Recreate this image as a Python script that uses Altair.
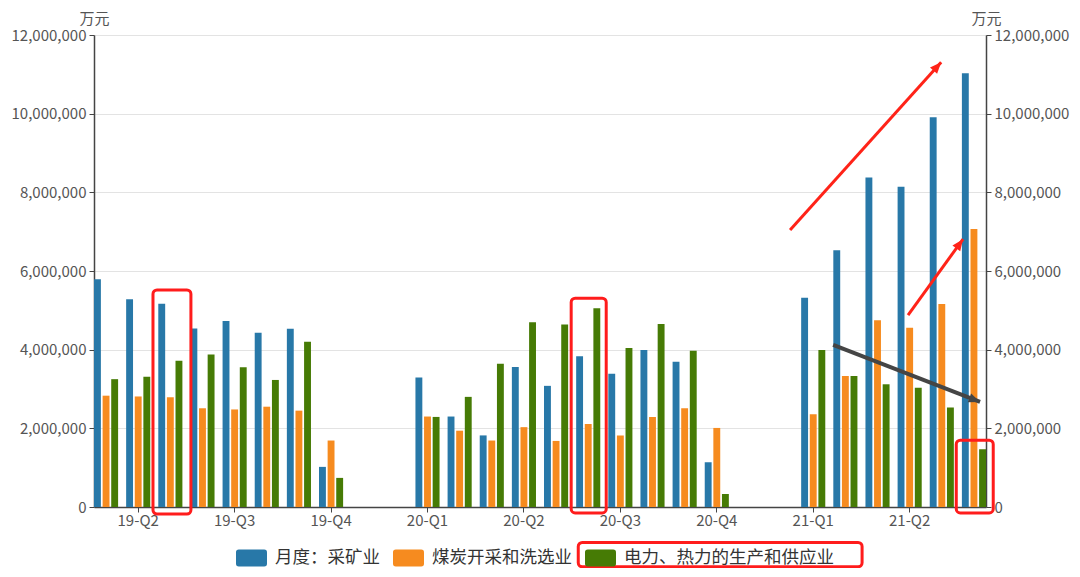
import altair as alt
import pandas as pd

# ---------------- data ----------------
periods = list(range(28))
tick_positions = [1, 4, 7, 10, 13, 16, 19, 22, 25]
tick_labels = ["19-Q2", "19-Q3", "19-Q4", "20-Q1", "20-Q2", "20-Q3", "20-Q4", "21-Q1", "21-Q2"]

series = ["月度：采矿业", "煤炭开采和洗选业", "电力、热力的生产和供应业"]
colors = ["#2878a8", "#f68b1f", "#467b05"]

mining = [5.79e6, 5.28e6, 5.17e6, 4.54e6, 4.73e6, 4.43e6, 4.53e6, 1.02e6, None, None,
          3.29e6, 2.30e6, 1.82e6, 3.56e6, 3.08e6, 3.83e6, 3.39e6, 3.99e6, 3.69e6, 1.14e6,
          None, None, 5.32e6, 6.53e6, 8.38e6, 8.14e6, 9.91e6, 11.03e6]
coal = [2.83e6, 2.81e6, 2.79e6, 2.51e6, 2.48e6, 2.55e6, 2.45e6, 1.69e6, None, None,
        2.30e6, 1.94e6, 1.69e6, 2.03e6, 1.68e6, 2.11e6, 1.82e6, 2.29e6, 2.51e6, 2.01e6,
        None, None, 2.36e6, 3.33e6, 4.75e6, 4.56e6, 5.16e6, 7.07e6]
power = [3.25e6, 3.31e6, 3.72e6, 3.88e6, 3.55e6, 3.23e6, 4.20e6, 0.74e6, None, None,
         2.29e6, 2.80e6, 3.64e6, 4.70e6, 4.64e6, 5.05e6, 4.04e6, 4.65e6, 3.97e6, 0.33e6,
         None, None, 3.99e6, 3.33e6, 3.12e6, 3.03e6, 2.53e6, 1.47e6]

# annotation highlight boxes (category units / value units)
box_x0 = [1.46, 14.47, 26.45, 14.69]
box_x1 = [2.64, 15.56, 27.60, 23.52]
box_y0 = [-0.18e6, -0.15e6, -0.15e6, -1.52e6]
box_y1 = [5.52e6, 5.31e6, 1.70e6, -0.90e6]

# annotation arrows
arrow_x0 = [21.28, 24.95, 22.62]
arrow_y0 = [7.04e6, 4.88e6, 4.12e6]
arrow_x1 = [25.98, 26.66, 27.19]
arrow_y1 = [11.31e6, 6.81e6, 2.67e6]
arrow_angle = [41.9, 35.9, 111.2]
arrow_color = ["#ff2318", "#ff2318", "#454545"]
arrow_width = [3.0, 3.0, 4.0]

# ---------------- tables ----------------
rows = []
for name, vals in zip(series, [mining, coal, power]):
    for p, v in zip(periods, vals):
        if v is not None:
            rows.append({"period": p, "series": name, "value": v})
bars_df = pd.DataFrame(rows)

boxes_df = pd.DataFrame({"x0": box_x0, "x1": box_x1, "y0": box_y0, "y1": box_y1})
arrows_df = pd.DataFrame({"x0": arrow_x0, "y0": arrow_y0, "x1": arrow_x1, "y1": arrow_y1,
                          "angle": arrow_angle, "color": arrow_color, "w": arrow_width})

label_array = ["" for _ in periods]
for pos, lab in zip(tick_positions, tick_labels):
    label_array[pos] = lab
label_expr = "[" + ",".join("'" + s + "'" for s in label_array) + "][datum.value]"

FONT = "Noto Sans CJK SC"
YDOM = [0, 12000000]
W, H = 892, 472
YTICKS = list(range(0, 12000001, 2000000))


def y_axis(orient, grid):
    return alt.Axis(orient=orient, values=YTICKS, format=",d",
                    title="万元", titleAngle=0, titleX=0, titleY=-9,
                    titleAlign="center", titleBaseline="bottom",
                    titleFont=FONT, titleFontSize=15, titleFontWeight="normal",
                    titleColor="#555555",
                    labelFont=FONT, labelFontSize=15, labelColor="#555555",
                    tickSize=5, tickColor="#444444", labelPadding=3,
                    domainColor="#444444", domainWidth=1.5,
                    grid=grid, gridColor="#e3e3e3", gridWidth=1)


bars = alt.Chart(bars_df).mark_bar().encode(
    x=alt.X("period:O",
            scale=alt.Scale(domain=periods, paddingInner=0.25, paddingOuter=0),
            axis=alt.Axis(values=tick_positions, labelExpr=label_expr, title=None,
                          labelAngle=0, labelFontSize=15, labelColor="#555555",
                          labelFont=FONT, tickSize=5, tickColor="#444444",
                          domainColor="#444444", domainWidth=1.5, labelPadding=1,
                          bandPosition=0.5, grid=False)),
    xOffset=alt.XOffset("series:N", scale=alt.Scale(domain=series, paddingInner=0.2, paddingOuter=0)),
    y=alt.Y("value:Q", scale=alt.Scale(domain=YDOM, nice=False), axis=y_axis("left", True)),
    color=alt.Color("series:N",
                    scale=alt.Scale(domain=series, range=colors),
                    legend=alt.Legend(title=None, orient="none", direction="horizontal",
                                      legendX=142, legendY=507,
                                      symbolType="M-0.82,-0.55L0.82,-0.55Q1,-0.55 1,-0.37L1,0.37Q1,0.55 0.82,0.55L-0.82,0.55Q-1,0.55 -1,0.37L-1,-0.37Q-1,-0.55 -0.82,-0.55Z",
                                      symbolSize=961, symbolStrokeWidth=0, symbolOpacity=1,
                                      labelFont=FONT, labelFontSize=17.5, labelColor="#333333",
                                      labelLimit=400, labelOffset=8, columnPadding=13,
                                      padding=0)),
)

xq = alt.Scale(domain=[-0.375, 27.375], nice=False, zero=False)
yq = alt.Scale(domain=YDOM, nice=False)

rects = alt.Chart(boxes_df).mark_rect(fill=None, stroke="#ff1c1c", strokeWidth=3,
                                       cornerRadius=4, clip=False).encode(
    x=alt.X("x0:Q", scale=xq, axis=None),
    x2="x1:Q",
    y=alt.Y("y0:Q", scale=yq, axis=y_axis("right", False)),
    y2="y1:Q",
)

rules = alt.Chart(arrows_df).mark_rule(strokeCap="butt", clip=False).encode(
    x=alt.X("x0:Q", scale=xq, axis=None),
    x2="x1:Q",
    y=alt.Y("y0:Q", scale=yq),
    y2="y1:Q",
    color=alt.Color("color:N", scale=None),
    strokeWidth=alt.StrokeWidth("w:Q", scale=None),
)

heads = alt.Chart(arrows_df).mark_point(
    shape="M0,0L-0.42,1L0.42,1Z", filled=True, opacity=1, size=520, clip=False
).encode(
    x=alt.X("x1:Q", scale=xq, axis=None),
    y=alt.Y("y1:Q", scale=yq),
    angle=alt.Angle("angle:Q", scale=None),
    color=alt.Color("color:N", scale=None),
)

annot = alt.layer(rects, rules, heads)

chart = alt.layer(bars, annot).resolve_scale(
    x="independent", y="independent", color="independent"
).properties(
    width=W, height=H,
    autosize=alt.AutoSizeParams(type="none"),
    padding={"left": 86, "top": 27, "right": 86, "bottom": 61},
).configure_view(stroke=None).configure(font=FONT, background="white")

chart.save("out.html", embed_options={"renderer": "svg", "actions": False})
